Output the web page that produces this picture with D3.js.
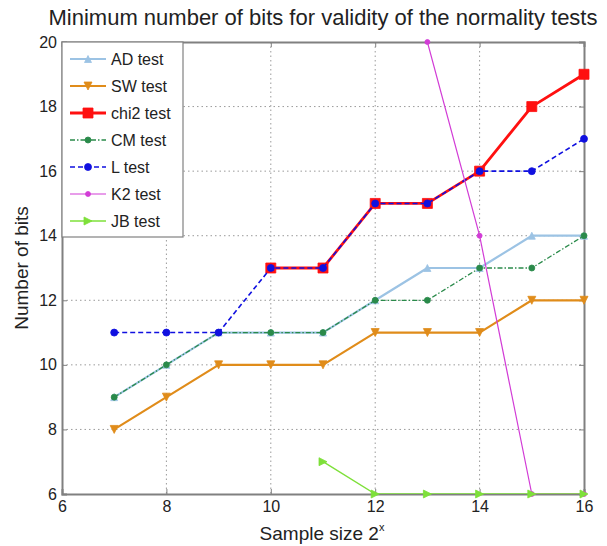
<!DOCTYPE html>
<html>
<head>
<meta charset="utf-8">
<script src="https://cdn.jsdelivr.net/npm/d3@7"></script>
<style>
  body { margin: 0; background: #fff; }
  svg { display: block; font-family: "Liberation Sans", Arial, sans-serif; }
</style>
</head>
<body>
<svg id="chart" width="607" height="546"></svg>
<script>
// Sample size exponents and the minimum number of bits per test
const exponents = [7, 8, 9, 10, 11, 12, 13, 14, 15, 16];
const adBits   = [9, 10, 11, 11, 11, 12, 13, 13, 14, 14];
const swBits   = [8, 9, 10, 10, 10, 11, 11, 11, 12, 12];
const chi2X    = [10, 11, 12, 13, 14, 15, 16];
const chi2Bits = [13, 13, 15, 15, 16, 18, 19];
const cmBits   = [9, 10, 11, 11, 11, 12, 12, 13, 13, 14];
const lBits    = [11, 11, 11, 13, 13, 15, 15, 16, 16, 17];
const k2X      = [13, 14, 15, 16];
const k2Bits   = [20, 14, 6, 6];
const jbX      = [11, 12, 13, 14, 15, 16];
const jbBits   = [7, 6, 6, 6, 6, 6];
const xTicks = [6, 8, 10, 12, 14, 16];
const yTicks = [6, 8, 10, 12, 14, 16, 18, 20];

const series = [
  { name: "AD test",   xs: exponents, ys: adBits,   color: "#9cc3e4", width: 2.2, dash: null,      marker: "triUp",    size: 7 },
  { name: "SW test",   xs: exponents, ys: swBits,   color: "#e08c1a", width: 2.2, dash: null,      marker: "triDown",  size: 8 },
  { name: "chi2 test", xs: chi2X,     ys: chi2Bits, color: "#ff1010", width: 2.8, dash: null,      marker: "square",   size: 10 },
  { name: "CM test",   xs: exponents, ys: cmBits,   color: "#2a8a4a", width: 1.3, dash: "5,2,1.5,2", marker: "dot",    size: 6 },
  { name: "L test",    xs: exponents, ys: lBits,    color: "#1010e0", width: 1.6, dash: "5,3",     marker: "dot",      size: 7 },
  { name: "K2 test",   xs: k2X,       ys: k2Bits,   color: "#d23cd6", width: 1.2, dash: null,      marker: "dot",      size: 5 },
  { name: "JB test",   xs: jbX,       ys: jbBits,   color: "#7ee03a", width: 1.4, dash: null,      marker: "triRight", size: 8 }
];

const svg = d3.select("#chart");
const margin = { left: 62, right: 23, top: 42, bottom: 52 };
const W = 607, H = 546;
const x = d3.scaleLinear().domain([6, 16]).range([margin.left, W - margin.right]);
const y = d3.scaleLinear().domain([6, 20]).range([H - margin.bottom, margin.top]);

// Clip region for the series lines
svg.append("defs").append("clipPath").attr("id", "plotclip")
  .append("rect")
  .attr("x", x(6)).attr("y", y(20))
  .attr("width", x(16) - x(6)).attr("height", y(6) - y(20));

// Dotted grid
const grid = svg.append("g").attr("stroke", "#9a9a9a").attr("stroke-width", 1).attr("stroke-dasharray", "1.5,3");
grid.selectAll("line.gx").data(xTicks.slice(1, -1)).join("line")
  .attr("x1", d => x(d)).attr("x2", d => x(d)).attr("y1", y(20)).attr("y2", y(6));
grid.selectAll("line.gy").data(yTicks.slice(1, -1)).join("line")
  .attr("y1", d => y(d)).attr("y2", d => y(d)).attr("x1", x(6)).attr("x2", x(16));

// Axes
const axisColor = "#808080";
const xAxis = svg.append("g").attr("transform", `translate(0,${y(6)})`)
  .call(d3.axisBottom(x).tickValues(xTicks).tickSize(-5).tickPadding(7).tickFormat(d3.format("d")));
const yAxis = svg.append("g").attr("transform", `translate(${x(6)},0)`)
  .call(d3.axisLeft(y).tickValues(yTicks).tickSize(-5).tickPadding(5).tickFormat(d3.format("d")));
const xTop = svg.append("g").attr("transform", `translate(0,${y(20)})`)
  .call(d3.axisTop(x).tickValues(xTicks).tickSize(-5).tickFormat(""));
const yRight = svg.append("g").attr("transform", `translate(${x(16)},0)`)
  .call(d3.axisRight(y).tickValues(yTicks).tickSize(-5).tickFormat(""));
[xAxis, yAxis, xTop, yRight].forEach(g => {
  g.select(".domain").attr("stroke", axisColor).attr("stroke-width", 2);
  g.selectAll(".tick line").attr("stroke", axisColor).attr("stroke-width", 1);
  g.selectAll(".tick text").attr("fill", "#222").attr("font-size", 16)
    .attr("font-family", "\"Liberation Sans\", Arial, sans-serif");
});

// Marker shapes
function markerPath(type, size) {
  const s = size / 2;
  switch (type) {
    case "square":   return `M${-s},${-s}h${size}v${size}h${-size}Z`;
    case "triUp":    return `M0,${-s}L${s},${s}L${-s},${s}Z`;
    case "triDown":  return `M0,${s}L${s},${-s}L${-s},${-s}Z`;
    case "triRight": return `M${s},0L${-s},${-s}L${-s},${s}Z`;
    default:         return d3.symbol(d3.symbolCircle, Math.PI * s * s)();
  }
}

// Series lines (clipped) and markers
const plot = svg.append("g");
const line = d3.line().x(d => x(d[0])).y(d => y(d[1]));
series.forEach(s => {
  const pts = s.xs.map((v, i) => [v, s.ys[i]]);
  plot.append("path").datum(pts)
    .attr("clip-path", "url(#plotclip)")
    .attr("d", line).attr("fill", "none")
    .attr("stroke", s.color).attr("stroke-width", s.width)
    .attr("stroke-dasharray", s.dash)
    .attr("stroke-linejoin", "round");
  plot.selectAll(null).data(pts).join("path")
    .attr("transform", d => `translate(${x(d[0])},${y(d[1])})`)
    .attr("d", markerPath(s.marker, s.size))
    .attr("fill", s.color).attr("stroke", s.color).attr("stroke-width", 0.8);
});

// Legend
const lg = svg.append("g");
lg.append("rect").attr("x", x(6)).attr("y", y(20))
  .attr("width", 121).attr("height", 195)
  .attr("fill", "#fff").attr("stroke", axisColor).attr("stroke-width", 1.2);
series.forEach((s, i) => {
  const cy = 59 + i * 27;
  lg.append("line").attr("x1", 70).attr("x2", 106).attr("y1", cy).attr("y2", cy)
    .attr("stroke", s.color).attr("stroke-width", s.width).attr("stroke-dasharray", s.dash);
  lg.append("path").attr("transform", `translate(88,${cy})`)
    .attr("d", markerPath(s.marker, s.size))
    .attr("fill", s.color).attr("stroke", s.color).attr("stroke-width", 0.8);
  lg.append("text").attr("x", 111).attr("y", cy + 6)
    .attr("font-size", 16).attr("fill", "#222").text(s.name);
});

// Title and axis labels
svg.append("text").attr("x", 323).attr("y", 25).attr("text-anchor", "middle")
  .attr("font-size", 22).attr("fill", "#222")
  .text("Minimum number of bits for validity of the normality tests");
const xl = svg.append("text").attr("x", 322).attr("y", 540).attr("text-anchor", "middle")
  .attr("font-size", 19).attr("fill", "#222");
xl.append("tspan").text("Sample size 2");
xl.append("tspan").attr("font-size", 11).attr("dy", -9).text("x");
svg.append("text").attr("transform", `translate(28,${(y(20) + y(6)) / 2}) rotate(-90)`)
  .attr("text-anchor", "middle").attr("font-size", 19).attr("fill", "#222")
  .text("Number of bits");
</script>
</body>
</html>
